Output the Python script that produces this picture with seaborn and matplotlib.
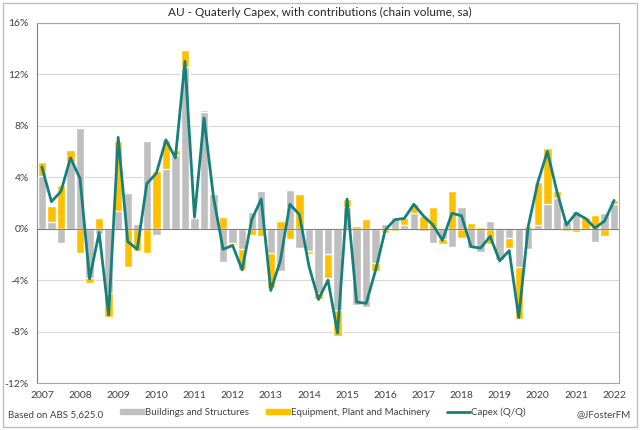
import numpy as np
import pandas as pd
import seaborn as sns
import matplotlib.pyplot as plt
from matplotlib.patches import Patch, Rectangle
from matplotlib.lines import Line2D
from matplotlib.ticker import FuncFormatter

# Data (quarterly, 2007Q1 - 2022Q1), percentage points
quarters = [str(p) for p in pd.period_range('2007Q1', '2022Q1', freq='Q')]
buildings = [4.1, 0.5, -1.1, 5.2, 7.8, -3.8, -0.4, -5.0, 1.4, 2.8, 0.4, 6.8, -0.5, 4.6, 5.7,
             12.6, 0.8, 9.1, 2.7, -2.6, -1.1, -1.6, 1.3, 2.9, -1.9, -3.3, 3.0, -1.5, -1.7, -5.0,
             -2.0, -6.3, 1.7, -5.9, -6.1, -2.7, 0.4, 0.8, 0.3, 1.2, -0.2, -1.1, -0.8, -1.4, 1.7,
             -1.5, -1.8, 0.6, -2.4, -0.7, -3.0, -1.6, 0.3, 1.9, 2.4, 0.5, 1.35, -0.1, -1.0, 1.2, 1.95]
equipment = [1.1, 1.3, 3.4, 0.9, -1.9, -0.4, 0.8, -1.9, 5.4, -3.0, -1.7, -1.9, 4.5, 2.3, 0.4,
             1.3, 0.1, 0.1, 0.05, 0.9, -0.2, -1.6, -0.5, -0.6, -2.7, 0.6, -0.8, 2.7, -0.3, -0.5,
             -1.8, -2.0, 0.6, 0.2, 0.75, -0.6, -0.35, -0.2, 0.5, 0.7, 1.0, 1.7, -0.4, 2.9, -0.7,
             0.45, 0.1, -1.2, -0.1, -0.8, -4.0, 0.2, 3.3, 4.4, 0.5, -0.2, -0.25, 0.9, 1.1, -0.6, 0.25]
capex = [4.8, 2.1, 2.9, 5.5, 3.9, -3.9, -0.3, -6.7, 7.1, -1.0, -1.6, 3.5, 4.3, 6.9, 5.5,
         13.0, 0.9, 8.6, 2.4, -1.6, -1.3, -3.2, 0.7, 2.3, -4.8, -2.5, 1.9, 1.1, -2.9, -5.5,
         -4.0, -8.1, 2.3, -5.7, -5.8, -3.2, -0.1, 0.7, 0.8, 1.9, 1.0, 0.3, -0.9, 1.2, 1.0,
         -1.4, -1.5, -0.6, -2.5, -1.7, -6.9, 0.2, 3.6, 6.0, 2.9, 0.3, 1.2, 0.8, 0.05, 0.6, 2.2]

df = pd.DataFrame({'quarter': quarters, 'buildings': buildings,
                   'equipment': equipment, 'capex': capex})
# Excel-style stacking: positives stack up from 0, negatives stack down from 0
same = np.sign(df.buildings) == np.sign(df.equipment)
df['equip_top'] = np.where(same, df.buildings + df.equipment, df.equipment)
df['pos'] = np.arange(len(df))

sns.set_style('white')
plt.rcParams['font.family'] = ['Lato', 'DejaVu Sans']

GREY = '#BFBFBF'
GOLD = '#FFC000'
TEAL = '#16807C'

fig = plt.figure(figsize=(6.4, 4.3), dpi=100)
ax = fig.add_axes([0.058, 0.109, 0.909, 0.838])

sns.barplot(data=df, x='quarter', y='equip_top', color=GOLD, width=0.88,
            saturation=1, ax=ax, zorder=2)
sns.barplot(data=df, x='quarter', y='buildings', color=GREY, width=0.88,
            saturation=1, ax=ax, zorder=3)
sns.lineplot(data=df, x='pos', y='capex', color=TEAL, linewidth=2, ax=ax, zorder=4)

ax.axhline(0, color='#808080', linewidth=0.8, zorder=3.5)
ax.set_ylim(-12, 16)
ax.set_xlim(-0.5, len(df) - 0.5)
ax.set_yticks(np.arange(-12, 17, 4))
ax.yaxis.set_major_formatter(FuncFormatter(lambda v, _: f'{v:.0f}%'))
ax.set_xticks(np.arange(0, len(df), 4))
ax.set_xticklabels([q[:4] for q in quarters[::4]])
ax.tick_params(axis='both', labelsize=7.5, colors='#404040', length=0, pad=6)
ax.set_xlabel('')
ax.set_ylabel('')
ax.grid(axis='y', color='#D9D9D9', linewidth=0.8, zorder=0)
ax.set_axisbelow(True)
for s in ax.spines.values():
    s.set_color('#A6A6A6')
    s.set_linewidth(0.8)
ax.spines['left'].set_color('#808080')

fig.text(0.5, 0.972, 'AU - Quaterly Capex, with contributions (chain volume, sa)',
         ha='center', va='center', fontsize=8.5, color='#262626')

handles = [Patch(color=GREY, label='Buildings and Structures'),
           Patch(color=GOLD, label='Equipment, Plant and Machinery'),
           Line2D([], [], color=TEAL, linewidth=2, label='Capex (Q/Q)')]
fig.legend(handles=handles, loc='center', bbox_to_anchor=(0.505, 0.042), ncol=3,
           frameon=False, fontsize=7, handlelength=2.4, handleheight=0.45,
           columnspacing=1.8, handletextpad=0.1, labelcolor='#404040')

fig.text(0.013, 0.035, 'Based on ABS 5,625.0', ha='left', va='center',
         fontsize=7, color='#404040')
fig.text(0.985, 0.035, '@JFosterFM', ha='right', va='center',
         fontsize=7, color='#404040')

fig.patches.append(Rectangle((0.004, 0.006), 0.992, 0.988, transform=fig.transFigure,
                             fill=False, edgecolor='#BFBFBF', linewidth=1))

fig.savefig('out.png', dpi=100)
